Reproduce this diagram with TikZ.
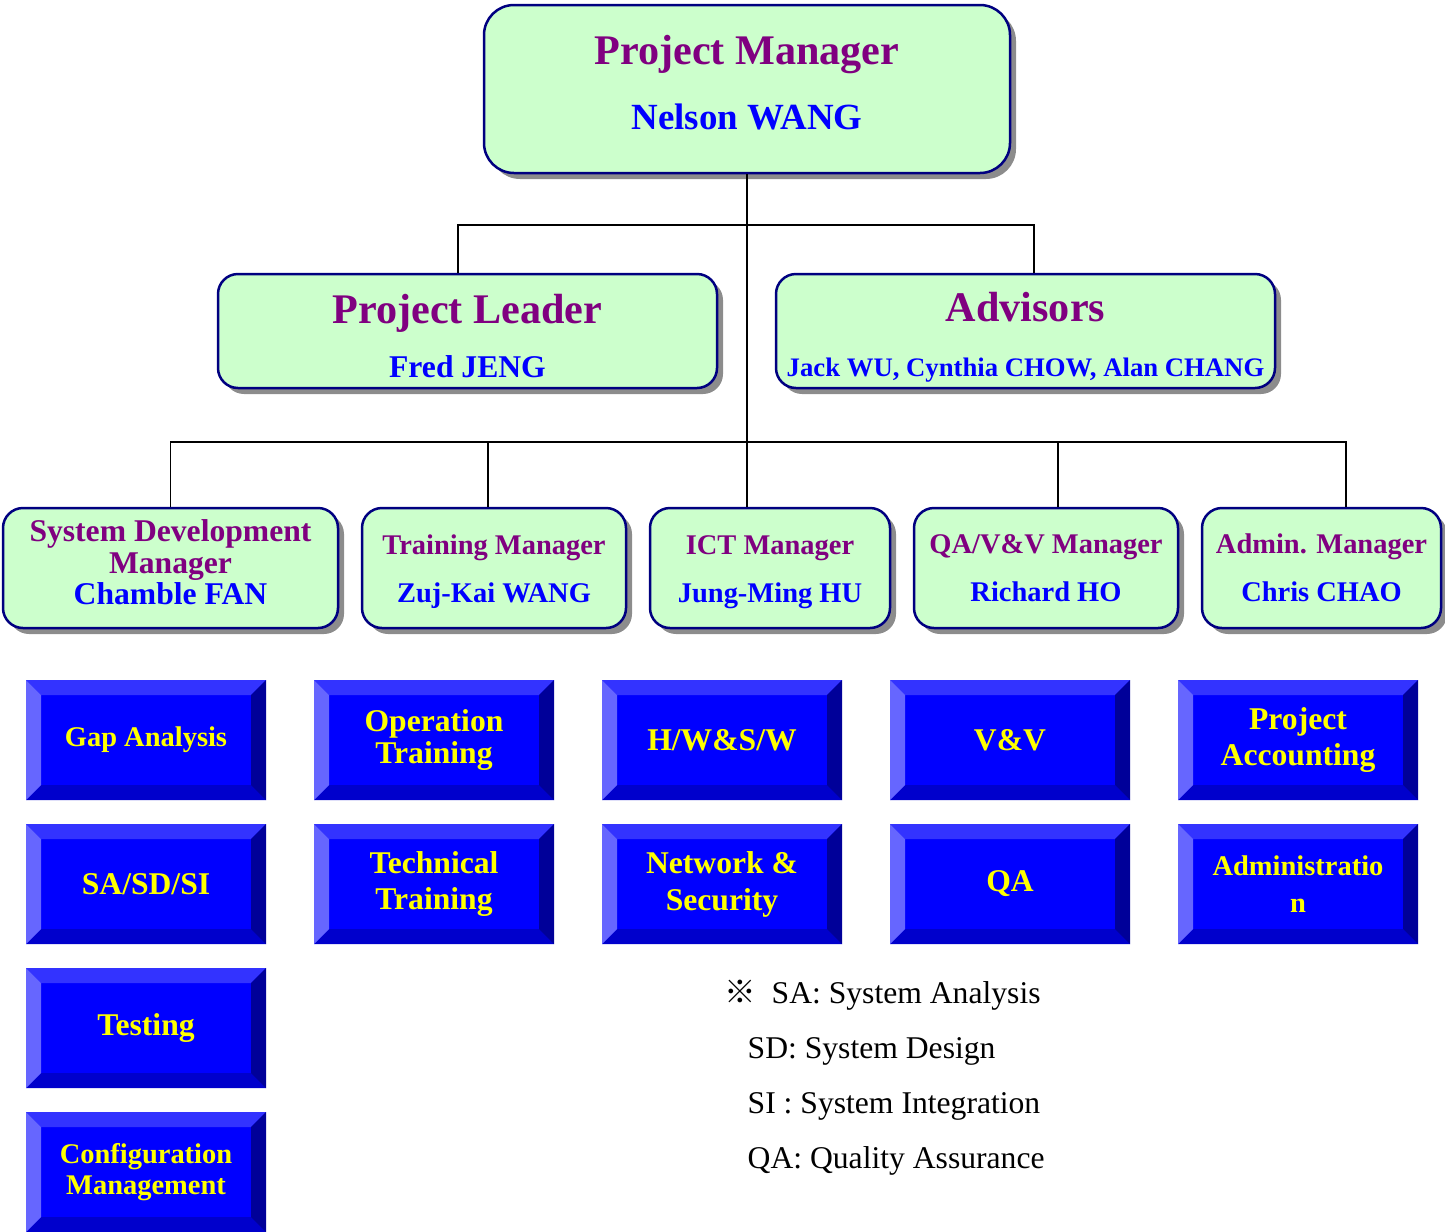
\documentclass[tikz,border=0pt]{standalone}
\usepackage{fontspec}
\setmainfont{Liberation Serif}
\newfontfamily\cjkfont{Noto Sans CJK SC}
\usetikzlibrary{shadows}
\definecolor{mgrfill}{HTML}{CCFFCC}
\definecolor{mgrline}{HTML}{000080}
\definecolor{ttlcol}{HTML}{800080}
\definecolor{nmcol}{HTML}{0000FF}
\definecolor{bvmid}{HTML}{0000FF}
\definecolor{bvtop}{HTML}{3333FF}
\definecolor{bvleft}{HTML}{6666FF}
\definecolor{bvright}{HTML}{000099}
\definecolor{bvbot}{HTML}{0000CC}
\definecolor{bvtxt}{HTML}{FFFF00}
\newcommand{\ttl}[2]{{\fontsize{#1}{#1}\selectfont\color{ttlcol}#2}}
\newcommand{\nm}[2]{{\fontsize{#1}{#1}\selectfont\color{nmcol}#2}}
\tikzset{
 mgr/.style={draw=mgrline, fill=mgrfill, line width=0.25mm, rounded corners=2mm,
  inner sep=0pt, align=center, font=\bfseries,
  drop shadow={shadow xshift=0.6mm, shadow yshift=-0.6mm, fill=black!45, opacity=1}},
 bevel/.style={minimum width=24mm, minimum height=12mm, inner sep=0pt, fill=bvmid,
  text=bvtxt, align=center, font=\bfseries\fontsize{9}{10.5}\selectfont,
  path picture={
   \fill[bvtop] (path picture bounding box.north west) -- (path picture bounding box.north east)
    -- ++(-1.5mm,-1.5mm) -- ([shift={(1.5mm,-1.5mm)}]path picture bounding box.north west) -- cycle;
   \fill[bvbot] (path picture bounding box.south west) -- (path picture bounding box.south east)
    -- ++(-1.5mm,1.5mm) -- ([shift={(1.5mm,1.5mm)}]path picture bounding box.south west) -- cycle;
   \fill[bvleft] (path picture bounding box.north west) -- (path picture bounding box.south west)
    -- ++(1.5mm,1.5mm) -- ([shift={(1.5mm,-1.5mm)}]path picture bounding box.north west) -- cycle;
   \fill[bvright] (path picture bounding box.north east) -- (path picture bounding box.south east)
    -- ++(-1.5mm,1.5mm) -- ([shift={(-1.5mm,-1.5mm)}]path picture bounding box.north east) -- cycle;
  }},
 conn/.style={draw=black, line width=0.15mm},
 legend/.style={anchor=base west, inner sep=0pt, font=\fontsize{9}{9}\selectfont}
}

\begin{document}
\begin{tikzpicture}[x=0.1mm, y=-0.1mm]
\useasboundingbox (0,0) rectangle (1445,1231);

% managers
\node[mgr, minimum width=52.6mm, minimum height=16.8mm, rounded corners=3mm] (pm) at (747,89)
 {\ttl{12}{Project Manager}\\[6.5pt]\nm{10.5}{Nelson WANG}\\[-8pt]\mbox{}};
\node[mgr, minimum width=49.9mm, minimum height=11.4mm] (pl) at (467.5,331)
 {\mbox{}\\[-1pt]\ttl{12}{Project Leader}\\[3.4pt]\nm{9}{Fred JENG}};
\node[mgr, minimum width=49.9mm, minimum height=11.4mm] (adv) at (1025.5,331)
 {\mbox{}\\[0pt]\ttl{12}{Advisors}\\[3.6pt]\nm{7.6}{Jack WU, Cynthia CHOW, Alan CHANG}};

\node[mgr, minimum width=33.5mm, minimum height=12mm] (sdm) at (170.5,568)
 {\ttl{9}{System Development}\\[-2.9pt]\ttl{9}{Manager}\\[-2.9pt]\nm{9}{Chamble FAN}\\[-8.6pt]\mbox{}};
\node[mgr, minimum width=26.4mm, minimum height=12mm] (trn) at (494,568)
 {\mbox{}\\[-4.2pt]\ttl{8.1}{Training Manager}\\[1.7pt]\nm{8.1}{Zuj-Kai WANG}};
\node[mgr, minimum width=24mm, minimum height=12mm] (ict) at (770,568)
 {\mbox{}\\[-4.2pt]\ttl{8.1}{ICT Manager}\\[1.7pt]\nm{8.1}{Jung-Ming HU}};
\node[mgr, minimum width=26.4mm, minimum height=12mm] (qam) at (1046,568)
 {\ttl{8.1}{QA/V\&V Manager}\\[1.7pt]\nm{8.1}{Richard HO}};
\node[mgr, minimum width=23.9mm, minimum height=12mm] (adm) at (1321.5,568)
 {\ttl{8.1}{Admin. Manager}\\[1.7pt]\nm{8.1}{Chris CHAO}};

% lines
\coordinate (bus1) at (746,225);
\coordinate (bus2) at (746,442);
\draw[conn] (pm.south) -- (pm.south |- ict.north);
\draw[conn] ([xshift=-0.95mm]pl.north) |- (bus1) -| ([xshift=0.85mm]adv.north);
\draw[conn] (sdm.north) |- (bus2) -| ([xshift=2.45mm]adm.north);
\draw[conn] ([xshift=-0.6mm]trn.north) -- ([xshift=-0.6mm]trn.north |- bus2);
\draw[conn] ([xshift=1.2mm]qam.north) -- ([xshift=1.2mm]qam.north |- bus2);

% tasks
\node[bevel, font=\bfseries\fontsize{8.1}{9}\selectfont] (gap) at (146,740) {Gap Analysis};
\node[bevel] (sasd) at (146,884) {SA/SD/SI};
\node[bevel] (tst) at (146,1028) {Testing};
\node[bevel, font=\bfseries\fontsize{8.1}{9}\selectfont] (cfg) at (146,1172) {Configuration\\Management};
\node[bevel, font=\bfseries\fontsize{9}{9.2}\selectfont] (opt) at (434,740) {Operation\\Training};
\node[bevel] (tct) at (434,884) {Technical\\Training};
\node[bevel] (hws) at (722,740) {H/W\&S/W};
\node[bevel] (net) at (722,884) {Network \&\\Security};
\node[bevel] (vv) at (1010,740) {V\&V};
\node[bevel] (qa) at (1010,884) {QA};
\node[bevel] (pac) at (1298,740) {Project\\Accounting};
\node[bevel, font=\bfseries\fontsize{8.1}{10.5}\selectfont] (adn) at (1298,884) {Administratio\\n};

% legend
\node[legend] (mark) at (724,1003) {\cjkfont ※};
\node[legend] (leg0) at (771,1003) {SA: System Analysis};
\foreach \t [count=\i] in {SD: System Design, SI : System Integration, QA: Quality Assurance}
 \node[legend] (leg\i) at (747,1003+55*\i) {\t};
\end{tikzpicture}
\end{document}
